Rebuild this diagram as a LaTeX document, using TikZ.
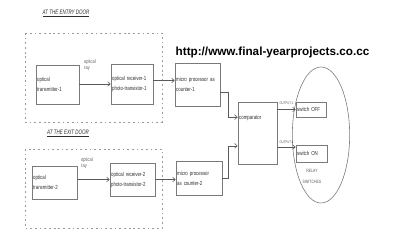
\documentclass[tikz,border=0pt]{standalone}
\usepackage{fontspec}
\usepackage{tikz}
\usetikzlibrary{arrows.meta,calc}
\usepackage{xcolor}
\setmainfont{Liberation Sans}
\newfontfamily\narrowsf[FakeStretch=0.75]{Liberation Sans}
\newfontfamily\titlesf[FakeStretch=0.7]{Liberation Sans}
\definecolor{BoxGray}{HTML}{7A7A7A}
\definecolor{LineGray}{HTML}{5A5A5A}
\definecolor{ZoneGray}{HTML}{9A9A9A}
\definecolor{InkDark}{HTML}{2E2E2E}

\begin{document}
\begin{tikzpicture}[
    x=0.03cm, y=-0.03cm,
    box/.style={draw=BoxGray, fill=white, line width=0.6pt, inner sep=1pt, align=left, text=InkDark, font=\narrowsf\fontsize{5}{8.5}\selectfont},
    zone/.style={draw=ZoneGray, line width=0.6pt, dash pattern=on 1.5pt off 2.5pt},
    title/.style={font=\titlesf\itshape\fontsize{5.5}{6}\selectfont, text=InkDark},
    note/.style={font=\narrowsf\fontsize{4.5}{5.5}\selectfont, text=LineGray, align=left, inner sep=0pt},
    arr/.style={-{Straight Barb[length=2.2pt,width=4pt]}, draw=LineGray, line width=0.5pt}
  ]
    \useasboundingbox (0,0) rectangle (400,242);

    % entry door
    \node[title] (entrytitle) at (66,13) {\underline{AT THE ENTRY DOOR}};
    \draw[zone] (25,33) rectangle (162,122);
    \node[box, minimum width=1.29cm, minimum height=1.17cm, text width=1.22cm] (tx1) at (57.5,84.5) {optical\\transmitter-1};
    \node[box, minimum width=1.26cm, minimum height=1.2cm, text width=1.19cm] (rx1) at (132,84) {optical receiver-1\\photo-transistor-1};
    \node[note, anchor=north west] (ray1) at (84,59) {optical\\ray};
    \node[box, minimum width=1.35cm, minimum height=1.29cm, text width=1.28cm] (mp1) at (197.5,84.5) {micro processor as\\counter-1};

    % exit door
    \node[title] (exittitle) at (68,133) {\underline{AT THE EXIT DOOR}};
    \draw[zone] (25,149) rectangle (162,228);
    \node[box, minimum width=1.35cm, minimum height=0.99cm, text width=1.28cm] (tx2) at (54.5,182.5) {optical\\transmitter-2};
    \node[box, minimum width=1.35cm, minimum height=0.99cm, text width=1.28cm] (rx2) at (132.5,179.5) {optical receiver-2\\photo-transistor-2};
    \node[note, anchor=north west] (ray2) at (81,157) {optical\\ray};
    \node[box, minimum width=1.38cm, minimum height=1.02cm, text width=1.31cm] (mp2) at (199,178) {micro processor\\as counter-2};

    % comparator and relays
    \node[font=\bfseries\fontsize{10}{12}\selectfont, inner sep=0pt] (url) at (272.5,52) {http://www.final-yearprojects.co.cc};
    \node[box, minimum width=1.17cm, minimum height=1.86cm, text width=1.1cm, text depth=26pt] (comp) at (257.5,133) {comparator};
    \draw[BoxGray, line width=0.5pt] (321,135) ellipse [x radius=0.86cm, y radius=2.04cm];
    \node[box, minimum width=0.9cm, minimum height=0.45cm, text width=0.83cm] (swoff) at (311,109.5) {switch OFF};
    \node[box, minimum width=0.93cm, minimum height=0.51cm, text width=0.86cm] (swon) at (311.5,153.5) {switch ON};
    \node[note, align=center, font=\narrowsf\fontsize{4}{9}\selectfont] (relay) at (312,176.5) {RELAY\\SWITCHES};

    \draw[arr] (tx1.east |- rx1.west) -- (rx1.west);
    \draw[arr] ([yshift=3pt]rx1.east) -- ([yshift=3pt]rx1.east -| mp1.west);
    \draw[arr] (tx2.east |- rx2.west) -- (rx2.west);
    \draw[arr] (rx2.east) -- (rx2.east -| mp2.west);

    \draw[arr] ([yshift=-6.5pt]mp1.east) -- ++(8,0) |- ([yshift=13.5pt]comp.west);
    \draw[arr] (mp2.east) -- ++(6,0) |- ([yshift=-11pt]comp.west);

    \draw[arr] (comp.east |- swoff.west) -- node[note, above=4pt, font=\narrowsf\fontsize{3.2}{4}\selectfont] {OUTPUT-1} (swoff.west);
    \draw[arr] ($(comp.east)+(0,14)$) coordinate (out2) -- node[note, above=3pt, font=\narrowsf\fontsize{3.2}{4}\selectfont] {OUTPUT-2} (out2 -| swon.west);
  \end{tikzpicture}
\end{document}
